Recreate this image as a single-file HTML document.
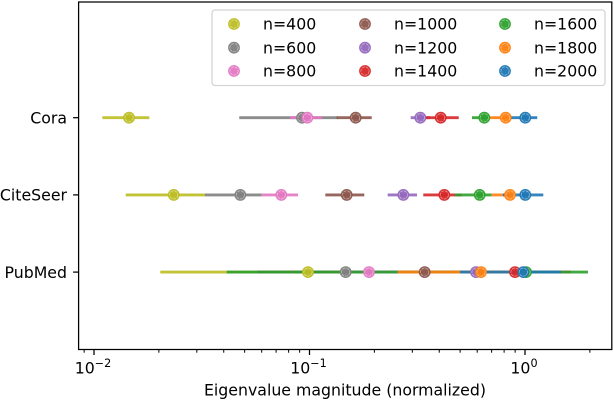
<!DOCTYPE html>
<html>
<head>
<meta charset="utf-8">
<title>Eigenvalue magnitude chart</title>
<style>
html,body{margin:0;padding:0;background:#fff;}
svg{display:block;filter:blur(0.3px);}
text{font-family:"DejaVu Sans","Liberation Sans",sans-serif;fill:#000;font-size:15.75px;}
</style>
</head>
<body>
<svg id="chart" width="614" height="400" viewBox="0 0 614 400" xmlns="http://www.w3.org/2000/svg">
  <rect x="78.6" y="2" width="533.2" height="347.5" fill="#fff"/>
  <g id="series-lines"></g>
  <g id="series-markers"></g>
  <g id="axes"></g>
  <rect x="78.6" y="2" width="533.2" height="347.5" fill="none" stroke="#000" stroke-width="1.25"/>
  <g id="legend">
    <rect x="212" y="10" width="393" height="75.5" rx="3" ry="3" fill="#fff" fill-opacity="0.8" stroke="#d4d4d4" stroke-width="1.25"/>
  </g>
  <text x="345" y="395.5" text-anchor="middle">Eigenvalue magnitude (normalized)</text>
</svg>
<script>
const datasets = ["Cora", "CiteSeer", "PubMed"];
const sizes = [400, 600, 800, 1000, 1200, 1400, 1600, 1800, 2000];
const colors = ["#bcbd22", "#7f7f7f", "#e377c2", "#8c564b", "#9467bd", "#d62728", "#2ca02c", "#ff7f0e", "#1f77b4"];
const coraLow = [0.01093, 0.0472, 0.0812, 0.1337, 0.2948, 0.3472, 0.5676, 0.688, 0.861];
const coraMid = [0.01454, 0.0923, 0.0977, 0.1638, 0.3268, 0.4063, 0.6474, 0.8136, 1.003];
const coraHigh = [0.01806, 0.1356, 0.1143, 0.1944, 0.3624, 0.4925, 0.688, 0.861, 1.14];
const citeseerLow = [0.01403, 0.0327, 0.06, 0.1184, 0.2306, 0.3373, 0.4733, 0.7005, 0.7904];
const citeseerMid = [0.02344, 0.04775, 0.07397, 0.1488, 0.2725, 0.4222, 0.6163, 0.852, 1.003];
const citeseerHigh = [0.03274, 0.06, 0.08844, 0.1796, 0.3154, 0.5084, 0.7005, 0.87, 1.216];
const pubmedLow = [0.0203, 0.083, 0.1245, 0.0571, 0.154, 0.263, 0.0413, 0.2566, 0.4994];
const pubmedMid = [0.0984, 0.1472, 0.1888, 0.3424, 0.5923, 0.8987, 1.011, 0.625, 0.982];
const pubmedHigh = [0.4994, 0.263, 0.3256, 1.055, 1.174, 1.635, 1.96, 1.055, 1.469];
const lows = [coraLow, citeseerLow, pubmedLow];
const mids = [coraMid, citeseerMid, pubmedMid];
const highs = [coraHigh, citeseerHigh, pubmedHigh];
const xMajorExponents = [-2, -1, 0];
const xMajorLabels = ["\u22122", "\u22121", "0"];

const NS = "http://www.w3.org/2000/svg";
const xScale = function (v) { return 525 + 215.5 * Math.log10(v); };
const yScale = function (i) { return 117.7 + 77.2 * i; };

function make(tag, attrs, parent) {
  const el = document.createElementNS(NS, tag);
  for (const k in attrs) el.setAttribute(k, attrs[k]);
  parent.appendChild(el);
  return el;
}

function drawMarker(parent, cx, cy, color) {
  const g = make("g", {}, parent);
  
  
  make("circle", { cx: cx, cy: cy, r: 5.9, fill: color, "fill-opacity": 0.95 }, g);
  make("circle", { cx: cx, cy: cy, r: 4.1, fill: "none", stroke: "#fff", "stroke-width": 0.7, "stroke-opacity": 0.55, "stroke-dasharray": "3 1" }, g);
}

const lineLayer = document.getElementById("series-lines");
const markerLayer = document.getElementById("series-markers");
datasets.forEach(function (name, d) {
  sizes.forEach(function (n, s) {
    const bar = make("line", {
      x1: xScale(lows[d][s]), x2: xScale(highs[d][s]),
      y1: yScale(d), y2: yScale(d),
      stroke: colors[s], "stroke-width": 2.9, "stroke-opacity": 0.9
    }, lineLayer);
    
    
  });
});
datasets.forEach(function (name, d) {
  sizes.forEach(function (n, s) {
    drawMarker(markerLayer, xScale(mids[d][s]), yScale(d), colors[s]);
  });
});

const axes = document.getElementById("axes");
const AXIS_BOTTOM = 349.5, AXIS_LEFT = 78.6, AXIS_RIGHT = 611.8;
xMajorExponents.forEach(function (e, i) {
  const x = xScale(Math.pow(10, e));
  const tick = make("line", { x1: x, x2: x, y1: AXIS_BOTTOM, y2: AXIS_BOTTOM + 5.5, stroke: "#000", "stroke-width": 1.25 }, axes);
  
  
  const label = make("text", { x: x - 1, y: 373.5, "text-anchor": "middle" }, axes);
  
  
  const base = make("tspan", {}, label);
  base.textContent = "10";
  const sup = make("tspan", { dy: -6.5 }, label);
  sup.style.fontSize = "11.2px";
  sup.textContent = xMajorLabels[i];
});
for (let e = -3; e <= 0; e++) {
  for (let m = 2; m <= 9; m++) {
    const x = xScale(m * Math.pow(10, e));
    if (x < AXIS_LEFT || x > AXIS_RIGHT) continue;
    const minor = make("line", { x1: x, x2: x, y1: AXIS_BOTTOM, y2: AXIS_BOTTOM + 3.2, stroke: "#000", "stroke-width": 1 }, axes);
    
    
  }
}
datasets.forEach(function (name, d) {
  const y = yScale(d);
  const tick = make("line", { x1: AXIS_LEFT - 5.5, x2: AXIS_LEFT, y1: y, y2: y, stroke: "#000", "stroke-width": 1.25 }, axes);
  
  
  const label = make("text", { x: 67, y: y + 5.8, "text-anchor": "end" }, axes);
  
  
  label.textContent = name;
});

const legend = document.getElementById("legend");
const legendMarkerX = [234, 365, 505];
const legendTextX = [263, 394, 534];
const legendRowY = [24, 47.7, 71];
sizes.forEach(function (n, s) {
  const col = Math.floor(s / 3), row = s % 3;
  const entry = make("g", {}, legend);
  
  
  drawMarker(entry, legendMarkerX[col], legendRowY[row], colors[s]);
  const t = make("text", { x: legendTextX[col], y: legendRowY[row] + 5.7 }, entry);
  
  
  t.textContent = "n=" + n;
});
</script>
</body>
</html>
